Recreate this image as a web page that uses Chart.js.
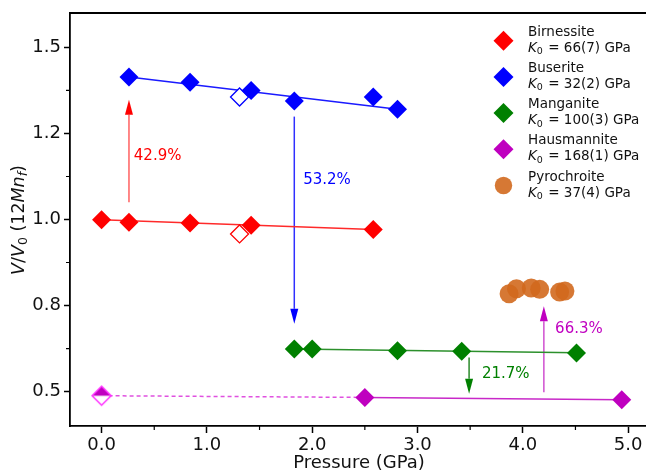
<!DOCTYPE html>
<html>
<head>
<meta charset="utf-8">
<script src="https://cdn.jsdelivr.net/npm/chart.js@4/dist/chart.umd.min.js"></script>
<style>
  html, body { margin: 0; padding: 0; background: #fff; }
  #wrap { width: 646px; height: 473px; }
</style>
</head>
<body>
<div id="wrap"><canvas id="eosChart" width="646" height="473"></canvas></div>
<script>
// Pressure (GPa) and relative volume V/V0
const birnP = [0.0, 0.26, 0.84, 1.42, 2.58];
const birnV = [0.999, 0.992, 0.990, 0.983, 0.971];
const birnOpenP = [1.31];
const birnOpenV = [0.958];
const birnFitP = [0.0, 2.58];
const birnFitV = [0.999, 0.971];

const buseP = [0.26, 0.84, 1.42, 1.83, 2.58, 2.81];
const buseV = [1.414, 1.399, 1.375, 1.344, 1.356, 1.320];
const buseOpenP = [1.31];
const buseOpenV = [1.356];
const buseFitP = [0.26, 2.81];
const buseFitV = [1.414, 1.320];

const mangP = [1.83, 2.00, 2.81, 3.42, 4.51];
const mangV = [0.624, 0.624, 0.619, 0.617, 0.612];
const mangFitP = [1.83, 4.51];
const mangFitV = [0.6235, 0.6125];

const hausP = [2.50, 4.94];
const hausV = [0.483, 0.476];
const hausHalfP = [0.0];
const hausHalfV = [0.488];
const hausFitP = [2.50, 4.94];
const hausFitV = [0.483, 0.476];
const hausExtP = [0.0, 2.50];
const hausExtV = [0.488, 0.483];

const pyroP = [3.87, 3.94, 4.08, 4.16, 4.35, 4.40];
const pyroV = [0.784, 0.799, 0.801, 0.797, 0.789, 0.792];

// transition arrows: pressure, start and end volume, label
const arrowP = [0.26, 1.83, 3.49, 4.20];
const arrowFrom = [1.050, 1.299, 0.599, 0.498];
const arrowTo = [1.348, 0.697, 0.494, 0.748];
const arrowText = ['42.9%', '53.2%', '21.7%', '66.3%'];

const phaseNames = ['Birnessite', 'Buserite', 'Manganite', 'Hausmannite', 'Pyrochroite'];
const phaseK0 = ['66(7)', '32(2)', '100(3)', '168(1)', '37(4)'];

const xTicks = [0, 1, 2, 3, 4, 5];
const xTickLabels = ['0.0', '1.0', '2.0', '3.0', '4.0', '5.0'];
const xMinor = [0.5, 1.5, 2.5, 3.5, 4.5];
const yTicks = [0.5, 0.75, 1.0, 1.25, 1.5];
const yTickLabels = ['0.5', '0.8', '1.0', '1.2', '1.5'];
const yMinor = [0.625, 0.875, 1.125, 1.375];

const FONT = '"DejaVu Sans", sans-serif';
const RED = '#ff0000', BLUE = '#0000ff', GREEN = '#008000', MAG = '#bf00bf';
const ORANGE = 'rgba(210,105,30,0.9)';
const phaseColors = [RED, BLUE, GREEN, MAG, ORANGE];
const arrowShaft = ['#ff6060', '#3030ff', '#2a8a2a', '#d050d0'];
const arrowHead = [RED, BLUE, GREEN, '#c000c0'];
const arrowLabelPos = [[0.306, 1.183], [1.914, 1.115], [3.612, 0.551], [4.307, 0.681]];

const pts = (xs, ys) => xs.map((x, i) => ({ x: x, y: ys[i] }));

function halfDiamond(r, fill, edge) {
  const c = document.createElement('canvas');
  const s = Math.ceil(2 * r + 4);
  c.width = s; c.height = s;
  const g = c.getContext('2d');
  const m = s / 2;
  const path = () => {
    g.beginPath();
    g.moveTo(m, m - r); g.lineTo(m + r, m); g.lineTo(m, m + r); g.lineTo(m - r, m);
    g.closePath();
  };
  path(); g.fillStyle = '#fff'; g.fill();
  g.beginPath(); g.moveTo(m, m - r); g.lineTo(m + r, m); g.lineTo(m - r, m); g.closePath();
  g.fillStyle = fill; g.fill();
  path(); g.strokeStyle = edge; g.lineWidth = 1.5; g.stroke();
  return c;
}

function markers(xs, ys, color, opts) {
  return Object.assign({
    type: 'scatter', data: pts(xs, ys), showLine: false, order: 1,
    pointStyle: 'rectRot', pointRadius: 9.5,
    backgroundColor: color, borderColor: color, borderWidth: 0
  }, opts || {});
}

function fitLine(xs, ys, color, dash) {
  return {
    type: 'scatter', data: pts(xs, ys), showLine: true, order: 3,
    borderColor: color, borderWidth: 1.5, borderDash: dash || [],
    pointRadius: 0, fill: false
  };
}

// top spine, minor ticks, arrows, titles and legend
const extras = {
  id: 'extras',
  beforeDatasetsDraw(chart) {
    const ctx = chart.ctx, xs = chart.scales.x, ys = chart.scales.y;
    ctx.save();
    arrowP.forEach((p, i) => {
      const x = xs.getPixelForValue(p);
      const y0 = ys.getPixelForValue(arrowFrom[i]);
      const y1 = ys.getPixelForValue(arrowTo[i]);
      const dir = y1 < y0 ? -1 : 1;
      const headLen = 15, headW = 4;
      ctx.strokeStyle = arrowShaft[i];
      ctx.lineWidth = 1.5;
      ctx.beginPath();
      ctx.moveTo(x, y0);
      ctx.lineTo(x, y1 - dir * headLen);
      ctx.stroke();
      ctx.fillStyle = arrowHead[i];
      ctx.beginPath();
      ctx.moveTo(x, y1);
      ctx.lineTo(x - headW, y1 - dir * headLen);
      ctx.lineTo(x + headW, y1 - dir * headLen);
      ctx.closePath();
      ctx.fill();
      ctx.font = '15px ' + FONT;
      ctx.textAlign = 'left';
      ctx.textBaseline = 'middle';
      ctx.fillStyle = arrowHead[i];
      ctx.fillText(arrowText[i], xs.getPixelForValue(arrowLabelPos[i][0]), ys.getPixelForValue(arrowLabelPos[i][1]));
    });
    ctx.restore();
  },
  afterDraw(chart) {
    const ctx = chart.ctx, a = chart.chartArea, xs = chart.scales.x, ys = chart.scales.y;
    ctx.save();
    // top spine
    ctx.strokeStyle = '#000';
    ctx.lineWidth = 1.8;
    ctx.beginPath();
    ctx.moveTo(a.left - 0.9, a.top);
    ctx.lineTo(a.right, a.top);
    ctx.stroke();
    // minor ticks
    ctx.lineWidth = 1.2;
    ctx.beginPath();
    xMinor.forEach(v => {
      const x = xs.getPixelForValue(v);
      ctx.moveTo(x, a.bottom); ctx.lineTo(x, a.bottom + 4);
    });
    yMinor.forEach(v => {
      const y = ys.getPixelForValue(v);
      ctx.moveTo(a.left, y); ctx.lineTo(a.left - 4, y);
    });
    ctx.stroke();

    // x title
    ctx.fillStyle = '#111';
    ctx.font = '18px ' + FONT;
    ctx.textAlign = 'center';
    ctx.textBaseline = 'alphabetic';
    ctx.fillText('Pressure (GPa)', 359, 468);

    // y title: V/V0 (12Mn_f)
    const segs = [
      ['V', 'italic', 0], ['/', '', 0], ['V', 'italic', 0], ['0', '', 1],
      [' (12', '', 0], ['Mn', 'italic', 0], ['f', 'italic', 1], [')', '', 0]
    ];
    const setF = s => { ctx.font = (s[1] ? s[1] + ' ' : '') + (s[2] ? '12.5px ' : '17.5px ') + FONT; };
    let total = 0;
    segs.forEach(s => { setF(s); total += ctx.measureText(s[0]).width; });
    ctx.translate(24, 220);
    ctx.rotate(-Math.PI / 2);
    ctx.textAlign = 'left';
    let cx = -total / 2;
    segs.forEach(s => {
      setF(s);
      ctx.fillText(s[0], cx, s[2] ? 3 : 0);
      cx += ctx.measureText(s[0]).width;
    });
    ctx.setTransform(1, 0, 0, 1, 0, 0);

    // legend
    phaseNames.forEach((name, i) => {
      const my = 40.7 + 36.2 * i, mx = 503.5;
      ctx.fillStyle = phaseColors[i];
      ctx.beginPath();
      if (i === 4) {
        ctx.arc(mx, my, 8.7, 0, Math.PI * 2);
      } else {
        const r = 10;
        ctx.moveTo(mx, my - r); ctx.lineTo(mx + r, my); ctx.lineTo(mx, my + r); ctx.lineTo(mx - r, my);
        ctx.closePath();
      }
      ctx.fill();
      ctx.fillStyle = '#111';
      ctx.textAlign = 'left';
      ctx.textBaseline = 'alphabetic';
      ctx.font = '13.5px ' + FONT;
      ctx.fillText(name, 528, my - 5);
      let tx = 528;
      const base = my + 11;
      ctx.font = 'italic 13.5px ' + FONT;
      ctx.fillText('K', tx, base);
      tx += ctx.measureText('K').width;
      ctx.font = '9.5px ' + FONT;
      ctx.fillText('0', tx, base + 2.5);
      tx += ctx.measureText('0').width + 1;
      ctx.font = '13.5px ' + FONT;
      ctx.fillText(' = ' + phaseK0[i] + ' GPa', tx, base);
    });
    ctx.restore();
  }
};

const datasets = [
  markers(birnP, birnV, RED),
  markers(birnOpenP, birnOpenV, RED, { backgroundColor: '#fff', borderWidth: 1.3, pointRadius: 9 }),
  markers(buseP, buseV, BLUE),
  markers(buseOpenP, buseOpenV, BLUE, { backgroundColor: '#fff', borderWidth: 1.3, pointRadius: 9 }),
  markers(mangP, mangV, GREEN),
  markers(hausP, hausV, MAG),
  markers(hausHalfP, hausHalfV, MAG, { pointStyle: halfDiamond(9.5, MAG, '#ff30ff'), order: 0 }),
  markers(pyroP, pyroV, ORANGE, { pointStyle: 'circle', pointRadius: 9.5 }),
  fitLine(birnFitP, birnFitV, '#ff2a2a'),
  fitLine(buseFitP, buseFitV, '#1a1aff'),
  fitLine(mangFitP, mangFitV, '#2c902c'),
  fitLine(hausFitP, hausFitV, '#c828c8'),
  fitLine(hausExtP, hausExtV, '#e050e0', [4, 3])
];

new Chart(document.getElementById('eosChart'), {
  type: 'scatter',
  data: { datasets: datasets },
  options: {
    responsive: false,
    animation: false,
    layout: { autoPadding: false, padding: { top: 13, right: 0, bottom: 0, left: 0 } },
    plugins: { legend: { display: false }, tooltip: { enabled: false } },
    scales: {
      x: {
        type: 'linear', min: -0.3, max: 5.17,
        afterBuildTicks: s => { s.ticks = xTicks.map(v => ({ value: v })); },
        afterFit: s => { s.height = 47; s.paddingLeft = 0; s.paddingRight = 0; },
        ticks: {
          callback: v => xTickLabels[xTicks.indexOf(v)],
          font: { family: FONT, size: 18 }, color: '#111', padding: 2,
          maxRotation: 0, autoSkip: false
        },
        grid: { drawOnChartArea: false, drawTicks: true, tickLength: 7, tickWidth: 1.5, tickColor: '#000', color: '#000' },
        border: { display: true, color: '#000', width: 1.8 }
      },
      y: {
        type: 'linear', min: 0.4, max: 1.6,
        afterBuildTicks: s => { s.ticks = yTicks.map(v => ({ value: v })); },
        afterFit: s => { s.width = 70; s.paddingTop = 0; s.paddingBottom = 0; },
        ticks: {
          callback: v => yTickLabels[yTicks.indexOf(v)],
          font: { family: FONT, size: 18 }, color: '#111', padding: 3,
          autoSkip: false
        },
        grid: { drawOnChartArea: false, drawTicks: true, tickLength: 6, tickWidth: 1.5, tickColor: '#000', color: '#000' },
        border: { display: true, color: '#000', width: 1.8 }
      }
    }
  },
  plugins: [extras]
});
</script>
</body>
</html>
